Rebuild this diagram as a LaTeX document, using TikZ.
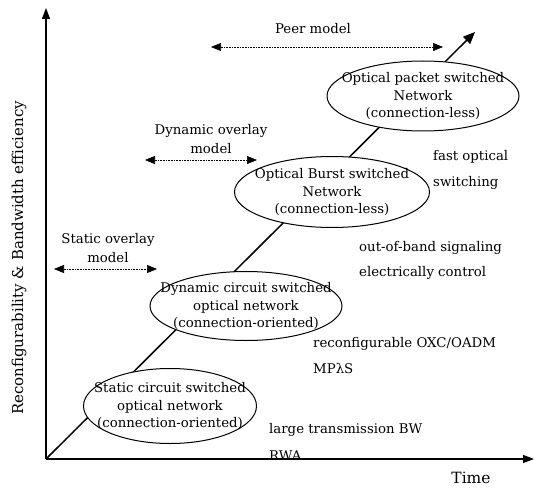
\documentclass[tikz,border=0pt]{standalone}
\usepackage{fontspec}
\setmainfont{DejaVu Serif}
\usetikzlibrary{arrows.meta,shapes.geometric,positioning}

\begin{document}
\begin{tikzpicture}[x=1pt,y=1pt,
    net/.style={ellipse,draw,line width=1pt,fill=white,inner sep=0pt},
    netlbl/.style={align=center,inner sep=0pt,font=\fontsize{13.3}{17.5}\selectfont},
    span/.style={{Triangle[length=10pt,width=8pt]}-{Triangle[length=10pt,width=8pt]},densely dotted,line width=0.6pt},
    model/.style={align=center,font=\fontsize{13.3}{18.5}\selectfont},
    note/.style={anchor=west,inner sep=0pt,font=\fontsize{13.3}{15}\selectfont}]
  \useasboundingbox (-46,-29) rectangle (488,459);

  % axes
  \coordinate (O) at (0,0);
  \coordinate (ytip) at (0,451);
  \coordinate (xtip) at (488,0);
  \coordinate (dtip) at (429,427);
  \draw[line width=1.3pt,-{Triangle[length=11pt,width=8pt]}] (O) -- (ytip);
  \draw[line width=1.3pt,-{Triangle[length=11pt,width=8pt]}] (O) -- (xtip);
  \draw[line width=1.5pt,-{Triangle[length=12pt,width=10pt]}] (O) -- (dtip);

  \node[rotate=90,font=\fontsize{15}{17}\selectfont] (ylbl) at (-27,201)
    {Reconfigurability \& Bandwidth efficiency};
  \node[inner sep=0pt,font=\fontsize{15.5}{17}\selectfont] (tlbl) at (425,-19) {Time};

  % networks
  \node[net,minimum width=173,minimum height=75] (e1) at (124,53) {};
  \node[netlbl] at (e1) {Static circuit switched\\optical network\\(connection-oriented)};
  \node[net,minimum width=192,minimum height=69] (e2) at (200,153) {};
  \node[netlbl] at (e2) {Dynamic circuit switched\\optical network\\(connection-oriented)};
  \node[net,minimum width=195,minimum height=71] (e3) at (286,267) {};
  \node[netlbl] at (e3) {Optical Burst switched\\Network\\(connection-less)};
  \node[net,minimum width=192,minimum height=70] (e4) at (377,363) {};
  \node[netlbl] at (e4) {Optical packet switched\\Network\\(connection-less)};

  % models
  \coordinate (s1) at (8,190);   \coordinate (s2) at (111,190);
  \coordinate (d1) at (99,299);  \coordinate (d2) at (211,299);
  \coordinate (p1) at (165,412); \coordinate (p2) at (397,412);
  \draw[span] (s1) -- (s2);
  \draw[span] (d1) -- (d2);
  \draw[span] (p1) -- (p2);
  \node[model] (smod) at (62,211) {Static overlay\\model};
  \node[model] (dmod) at (165,320) {Dynamic overlay\\model};
  \node[model] (pmod) at (267,430) {Peer model};

  % features
  \node[note] (f1) at (223,29)  {large transmission BW};
  \node[note] (f2) at (223,3)   {RWA};
  \node[note] (f3) at (267,115) {reconfigurable OXC/OADM};
  \node[note] (f4) at (267,90)  {MPλS};
  \node[note] (f5) at (313,211) {out-of-band signaling};
  \node[note] (f6) at (313,186) {electrically control};
  \node[note] (f7) at (387,302) {fast optical};
  \node[note] (f8) at (387,276) {switching};
\end{tikzpicture}
\end{document}
